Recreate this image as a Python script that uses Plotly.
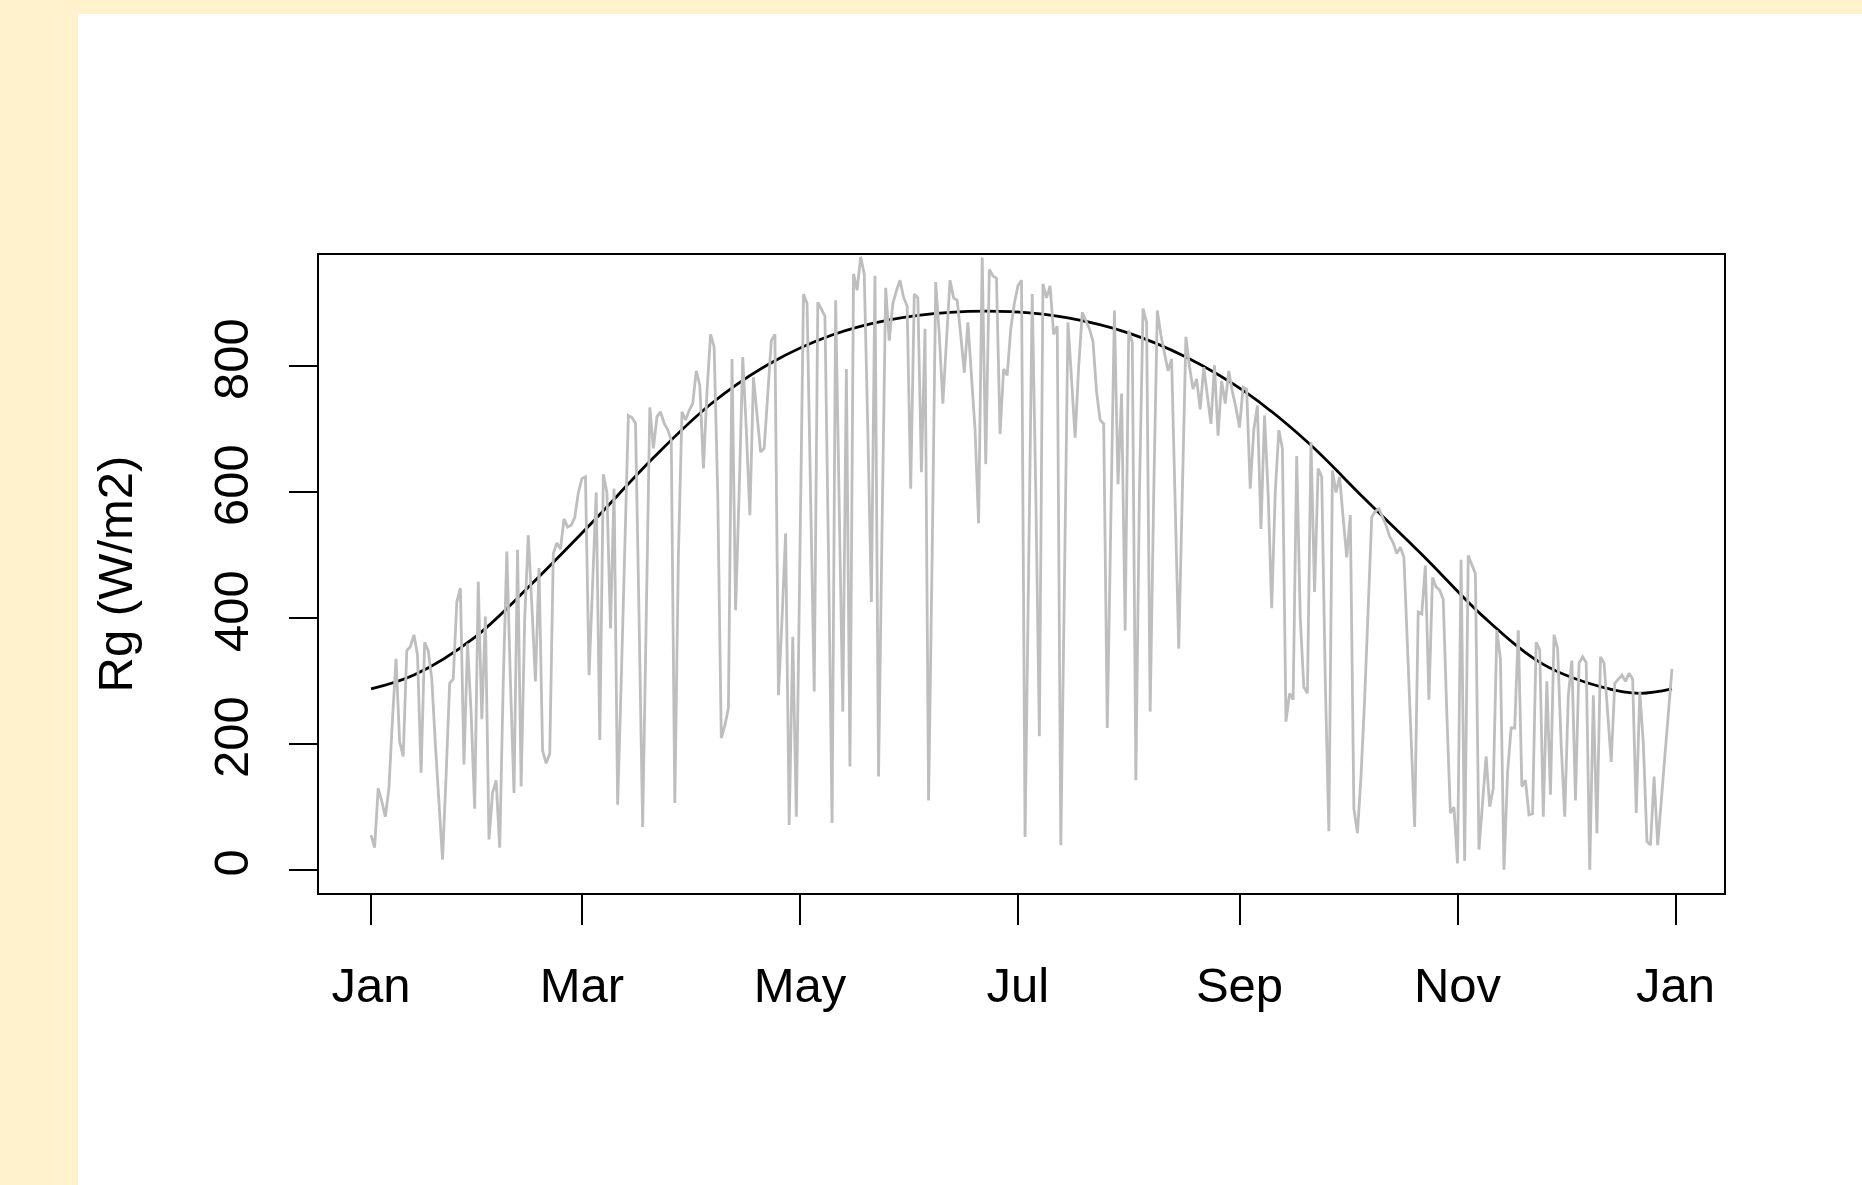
import pandas as pd
import plotly.graph_objects as go

year_start = "2019-01-01"

# Daily global radiation (W/m2), Jan 1 .. Dec 31
rg_daily = [
    56, 36, 130, 110, 85, 130, 240, 336, 204, 181,
    349, 355, 374, 342, 155, 362, 349, 304, 200, 98,
    17, 150, 297, 304, 426, 448, 168, 360, 250, 98,
    458, 240, 403, 49, 123, 143, 36, 300, 506, 300,
    123, 509, 133, 400, 532, 420, 300, 480, 190, 170,
    185, 503, 520, 510, 558, 545, 548, 560, 600, 622,
    625, 310, 450, 600, 207, 629, 600, 384, 606, 104,
    300, 510, 722, 719, 710, 400, 69, 400, 735, 670,
    720, 728, 710, 700, 683, 107, 500, 728, 715, 730,
    741, 793, 770, 638, 760, 851, 831, 600, 210, 230,
    258, 812, 413, 600, 815, 700, 564, 783, 720, 664,
    670, 760, 841, 851, 278, 400, 535, 72, 371, 85,
    500, 915, 900, 600, 284, 902, 890, 880, 500, 75,
    905, 600, 252, 796, 165, 947, 921, 974, 947, 700,
    426, 944, 149, 550, 925, 841, 900, 920, 937, 910,
    896, 606, 915, 909, 632, 860, 111, 500, 934, 850,
    741, 840, 937, 909, 905, 850, 790, 870, 780, 700,
    551, 973, 645, 954, 944, 940, 693, 796, 786, 860,
    900, 928, 937, 53, 480, 915, 600, 213, 931, 909,
    928, 851, 864, 40, 450, 870, 780, 687, 800, 886,
    873, 860, 840, 760, 715, 709, 226, 550, 889, 613,
    757, 381, 857, 838, 143, 600, 892, 870, 252, 600,
    889, 850, 820, 793, 812, 600, 352, 600, 847, 800,
    764, 780, 732, 799, 750, 709, 802, 690, 777, 741,
    793, 760, 735, 703, 767, 764, 606, 700, 738, 542,
    722, 600, 416, 600, 699, 670, 236, 281, 271, 658,
    400, 291, 281, 680, 442, 638, 625, 300, 62, 635,
    600, 625, 560, 497, 564, 98, 59, 150, 270, 420,
    561, 570, 574, 561, 548, 530, 520, 503, 513, 497,
    350, 200, 69, 410, 407, 484, 271, 465, 450, 445,
    430, 250, 91, 100, 11, 493, 15, 500, 484, 471,
    33, 100, 181, 101, 130, 381, 336, 1, 155, 226,
    226, 381, 133, 143, 88, 90, 362, 350, 85, 300,
    120, 374, 352, 200, 85, 278, 333, 111, 329, 339,
    330, 1, 278, 59, 339, 329, 250, 172, 297, 304,
    310, 300, 313, 304, 91, 284, 200, 46, 40, 149,
    40, 110, 180, 250, 320,
]

# Smooth clear-sky envelope read at selected days of year
curve_doy = [0, 12, 29, 45, 62, 79, 95, 112, 129, 145, 162, 179,
             195, 212, 228, 245, 262, 278, 295, 311, 328, 345, 355, 364]
curve_rg = [288, 310, 370, 455, 553, 655, 740, 806, 850, 874, 886, 887,
            877, 853, 815, 758, 680, 590, 496, 404, 327, 290, 281, 288]

tick_dates = ["2019-01-01", "2019-03-01", "2019-05-01", "2019-07-01",
              "2019-09-01", "2019-11-01", "2020-01-01"]
tick_labels = ["Jan", "Mar", "May", "Jul", "Sep", "Nov", "Jan"]
y_ticks = [0, 200, 400, 600, 800]
y_title = "Rg (W/m2)"

dates = pd.date_range(year_start, periods=len(rg_daily), freq="D")
curve_dates = pd.Timestamp(year_start) + pd.to_timedelta(curve_doy, unit="D")

pad = pd.Timedelta(days=0.04 * (len(rg_daily) - 1))
x_range = [dates[0] - pad, dates[-1] + pad]

W, H = 1862, 1185
L, R, T, B = 319, 138, 255, 292
pw, ph = W - L - R, H - T - B

FONT = "Liberation Sans, Arial, Helvetica, sans-serif"
BG = "#FFF2CC"
FS = 49

fig = go.Figure()
fig.add_trace(go.Scatter(
    x=curve_dates, y=curve_rg, mode="lines",
    line=dict(color="black", width=2.8, shape="spline", smoothing=1.0),
    hoverinfo="skip", showlegend=False))
fig.add_trace(go.Scatter(
    x=dates, y=rg_daily, mode="lines",
    line=dict(color="#BEBEBE", width=2.8),
    showlegend=False))

# white panel
fig.add_shape(type="rect", xref="paper", yref="paper",
              x0=(78 - L) / pw, x1=(W - L) / pw,
              y0=-B / ph, y1=(H - B - 14) / ph,
              fillcolor="white", line=dict(width=0), layer="below")

fig.update_layout(
    width=W, height=H,
    margin=dict(l=L, r=R, t=T, b=B, pad=0),
    paper_bgcolor=BG, plot_bgcolor="white",
    font=dict(family=FONT, size=FS, color="black"),
    xaxis=dict(
        type="date", range=x_range,
        tickmode="array", tickvals=tick_dates, ticktext=tick_labels,
        ticks="outside", ticklen=30, tickwidth=2, tickcolor="black",
        showline=True, linewidth=2, linecolor="black", mirror=True,
        showgrid=False, zeroline=False,
        tickfont=dict(family=FONT, size=FS, color="black"),
        ticklabelstandoff=18,
    ),
    yaxis=dict(
        range=[-36, 977],
        tickmode="array", tickvals=y_ticks,
        ticks="outside", ticklen=28, tickwidth=2, tickcolor="black",
        showline=True, linewidth=2, linecolor="black", mirror=True,
        showgrid=False, zeroline=False, tickangle=-90,
        tickfont=dict(family=FONT, size=FS, color="black"),
        ticklabelstandoff=21,
        title=dict(text=y_title, font=dict(family=FONT, size=FS, color="black"),
                   standoff=56),
        automargin=False,
    ),
)

fig.write_html("out.html",
               config={"displayModeBar": False},
               post_script="document.body.style.margin='0';document.body.style.background='%s';" % BG)
